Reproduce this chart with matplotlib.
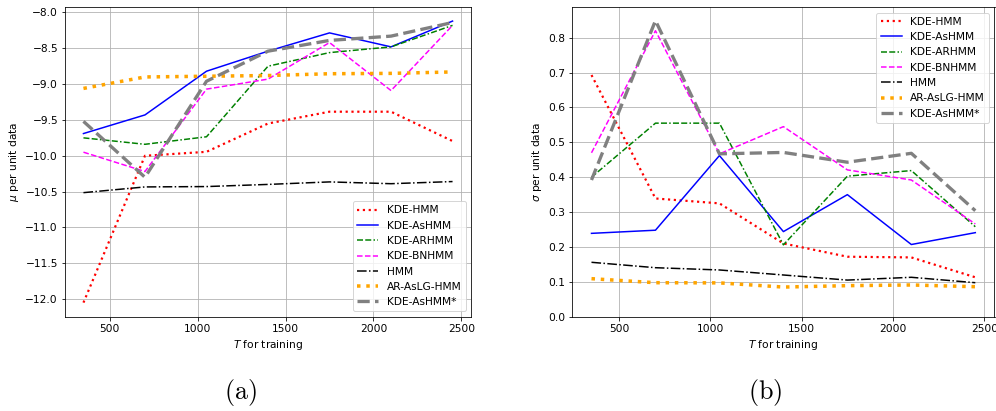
import numpy as np
import matplotlib
matplotlib.use('Agg')
import matplotlib.pyplot as plt

plt.rcParams['mathtext.fontset'] = 'dejavusans'
plt.rcParams['font.size'] = 10.6

T_train = [350, 700, 1050, 1400, 1750, 2100, 2450]

names = ['KDE-HMM', 'KDE-AsHMM', 'KDE-ARHMM', 'KDE-BNHMM', 'HMM', 'AR-AsLG-HMM', 'KDE-AsHMM*']

# mean log-likelihood per unit data
mu_kde_hmm   = [-12.05, -10.00, -9.945, -9.55, -9.385, -9.385, -9.795]
mu_kde_ashmm = [-9.69, -9.43, -8.82, -8.54, -8.285, -8.48, -8.12]
mu_kde_arhmm = [-9.75, -9.84, -9.735, -8.75, -8.56, -8.48, -8.18]
mu_kde_bnhmm = [-9.95, -10.22, -9.07, -8.93, -8.42, -9.09, -8.18]
mu_hmm       = [-10.515, -10.435, -10.43, -10.40, -10.365, -10.39, -10.36]
mu_ar_aslg   = [-9.06, -8.90, -8.89, -8.88, -8.855, -8.85, -8.83]
mu_ashmm_st  = [-9.52, -10.30, -8.96, -8.54, -8.39, -8.33, -8.14]

# std per unit data
sd_kde_hmm   = [0.693, 0.339, 0.325, 0.210, 0.172, 0.170, 0.113]
sd_kde_ashmm = [0.239, 0.248, 0.462, 0.244, 0.350, 0.207, 0.241]
sd_kde_arhmm = [0.400, 0.555, 0.555, 0.206, 0.403, 0.419, 0.258]
sd_kde_bnhmm = [0.470, 0.820, 0.467, 0.545, 0.421, 0.392, 0.266]
sd_hmm       = [0.156, 0.1405, 0.134, 0.1196, 0.105, 0.113, 0.0975]
sd_ar_aslg   = [0.109, 0.0975, 0.097, 0.085, 0.089, 0.091, 0.086]
sd_ashmm_st  = [0.392, 0.849, 0.467, 0.471, 0.443, 0.4685, 0.304]

styles = [
    dict(color='red', linestyle=':', linewidth=2.2),
    dict(color='blue', linestyle='-', linewidth=1.5),
    dict(color='green', linestyle=(0, (4, 1.5, 4, 1.5, 1, 1.5)), linewidth=1.5),
    dict(color='magenta', linestyle='--', linewidth=1.5),
    dict(color='black', linestyle='-.', linewidth=1.5),
    dict(color='orange', linestyle=':', linewidth=3.5),
    dict(color='gray', linestyle='--', linewidth=3.3),
]

mus = [mu_kde_hmm, mu_kde_ashmm, mu_kde_arhmm, mu_kde_bnhmm, mu_hmm, mu_ar_aslg, mu_ashmm_st]
sds = [sd_kde_hmm, sd_kde_ashmm, sd_kde_arhmm, sd_kde_bnhmm, sd_hmm, sd_ar_aslg, sd_ashmm_st]

W, H = 996, 411
fig = plt.figure(figsize=(W / 72, H / 72), dpi=72)

ax1 = fig.add_axes([65 / W, 1 - 316.7 / H, 406 / W, 309.7 / H])
ax2 = fig.add_axes([572.3 / W, 1 - 316.7 / H, 422.2 / W, 309.4 / H])

for name, st, m in zip(names, styles, mus):
    ax1.plot(T_train, m, label=name, **st)
ax1.set_xlabel(r'$T$ for training')
ax1.set_ylabel(r'$\mu$ per unit data')
ax1.grid(True)
ax1.legend(loc='lower right')

for name, st, s in zip(names, styles, sds):
    ax2.plot(T_train, s, label=name, **st)
ax2.set_ylim(bottom=0)
ax2.set_xlabel(r'$T$ for training')
ax2.set_ylabel(r'$\sigma$ per unit data')
ax2.grid(True)
ax2.legend(loc='upper right')

fig.text(240 / W, 1 - 393 / H, r'$\mathrm{(a)}$', fontsize=26, ha='center', va='center',
         math_fontfamily='cm')
fig.text(765 / W, 1 - 393 / H, r'$\mathrm{(b)}$', fontsize=26, ha='center', va='center',
         math_fontfamily='cm')

fig.savefig('out.png', dpi=72)
